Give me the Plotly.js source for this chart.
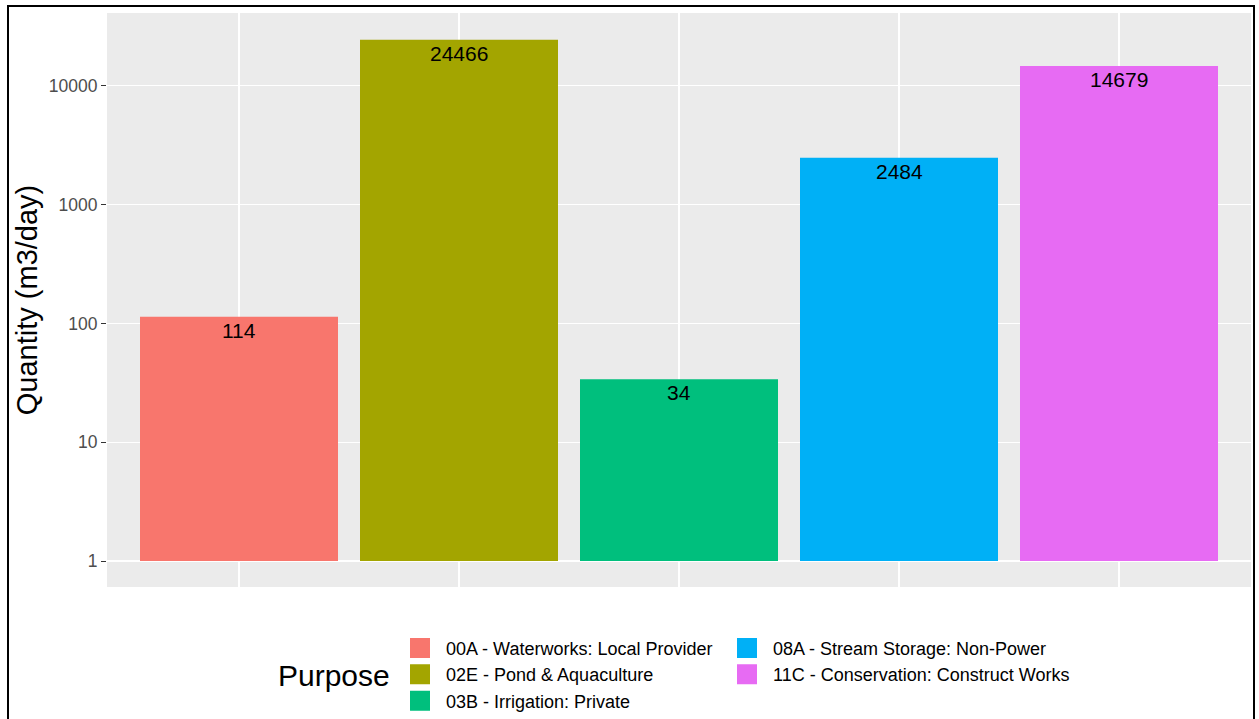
<!DOCTYPE html>
<html>
<head>
<meta charset="utf-8">
<script src="https://cdn.plot.ly/plotly-3.0.1.min.js"></script>
<style>
  html, body { margin: 0; padding: 0; background: #ffffff; }
  #chart { width: 1259px; height: 719px; }
</style>
</head>
<body>
<div id="chart"></div>
<script>
// ---- data ----
const purposes = [
  "00A - Waterworks: Local Provider",
  "02E - Pond & Aquaculture",
  "03B - Irrigation: Private",
  "08A - Stream Storage: Non-Power",
  "11C - Conservation: Construct Works"
];
const quantities = [114, 24466, 34, 2484, 14679];
const colors = ["#F8766D", "#A3A500", "#00BF7D", "#00B0F6", "#E76BF3"];
const yTickVals = [1, 10, 100, 1000, 10000];
const yTickText = ["1", "10", "100", "1000", "10000"];
const legendGroupOf = ["legend", "legend", "legend", "legend2", "legend2"];

const FONT = "Liberation Sans, Arial, Helvetica, sans-serif";

// bars start at 1 (log10 = 0), as in ggplot's log scale
const traces = [];
purposes.forEach((p, i) => {
  traces.push({
    type: "bar",
    x: [p],
    y: [quantities[i] - 1],
    base: [1],
    width: 0.9,
    marker: { color: colors[i], line: { width: 0 } },
    showlegend: false,
    hoverinfo: "skip"
  });
});
// legend proxies (bigger square keys)
purposes.forEach((p, i) => {
  traces.push({
    type: "scatter",
    mode: "markers",
    x: [null],
    y: [null],
    name: p,
    legend: legendGroupOf[i],
    marker: { symbol: "square", size: 16, color: colors[i], line: { color: colors[i], width: 4 } },
    showlegend: true,
    hoverinfo: "skip"
  });
});

const annotations = purposes.map((p, i) => ({
  x: p,
  y: Math.log10(quantities[i]),
  xref: "x",
  yref: "y",
  text: String(quantities[i]),
  showarrow: false,
  yanchor: "top",
  xanchor: "center",
  yshift: 0,
  font: { family: FONT, size: 21, color: "#000000" }
}));
annotations.push({
  xref: "paper", yref: "paper",
  x: 0.2491, y: -0.155,
  xanchor: "right", yanchor: "middle",
  text: "Purpose",
  showarrow: false,
  font: { family: FONT, size: 30, color: "#000000" }
});

const legendBase = {
  orientation: "v",
  xanchor: "left",
  yanchor: "top",
  y: -0.0744,
  bgcolor: "rgba(0,0,0,0)",
  borderwidth: 0,
  itemwidth: 42,
  font: { family: FONT, size: 18, color: "#000000" },
  itemclick: false, itemdoubleclick: false
};

const layout = {
  width: 1259,
  height: 719,
  margin: { l: 107, r: 8, t: 13, b: 132, pad: 0, autoexpand: false },
  paper_bgcolor: "#ffffff",
  plot_bgcolor: "#EBEBEB",
  font: { family: FONT, color: "#000000" },
  bargap: 0.1,
  xaxis: {
    type: "category",
    categoryorder: "array",
    categoryarray: purposes,
    range: [-0.6, 4.6],
    showticklabels: false,
    ticks: "",
    showgrid: true,
    gridcolor: "#ffffff",
    gridwidth: 1.2,
    zeroline: false,
    showline: false,
    fixedrange: true
  },
  yaxis: {
    type: "log",
    range: [-0.218, 4.613],
    tickmode: "array",
    tickvals: yTickVals,
    ticktext: yTickText,
    ticks: "outside",
    ticklen: 5,
    tickwidth: 1.1,
    tickcolor: "#333333",
    tickfont: { family: FONT, size: 17.5, color: "#4D4D4D" },
    showgrid: true,
    gridcolor: "#ffffff",
    gridwidth: 1.2,
    zeroline: false,
    showline: false,
    title: { text: "Quantity (m3/day)", font: { family: FONT, size: 29, color: "#000000" }, standoff: 2 },
    fixedrange: true
  },
  showlegend: true,
  legend: Object.assign({}, legendBase, { x: 0.2509 }),
  legend2: Object.assign({}, legendBase, { x: 0.5367 }),
  annotations: annotations,
  shapes: [{
    type: "rect",
    xref: "paper", yref: "paper",
    x0: (8 - 107) / 1144, x1: (1254 - 107) / 1144,
    y0: -(740 - 587) / 574, y1: (587 - 6) / 574,
    line: { color: "#000000", width: 2 },
    fillcolor: "rgba(0,0,0,0)",
    layer: "above"
  }]
};

Plotly.newPlot("chart", traces, layout, { displayModeBar: false, staticPlot: true });
</script>
</body>
</html>
